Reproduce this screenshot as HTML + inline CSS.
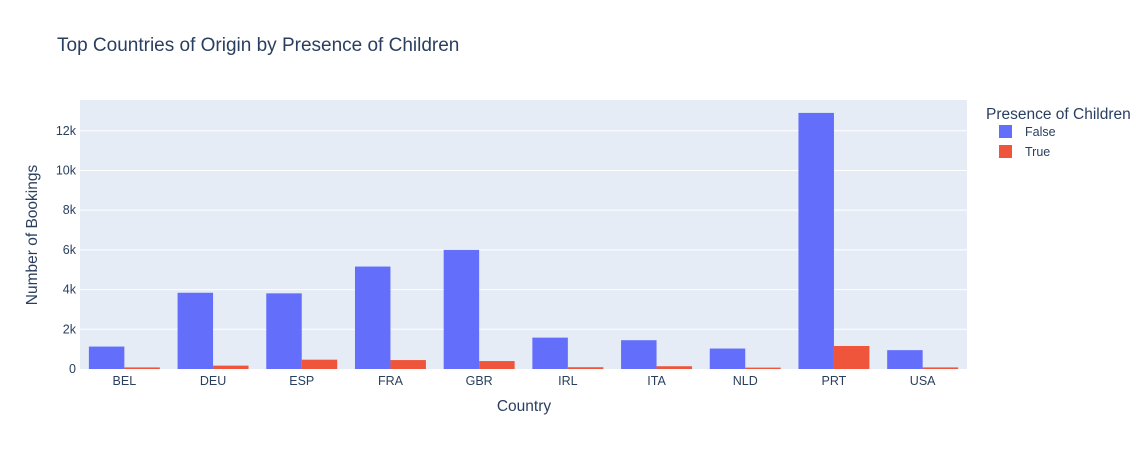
<!DOCTYPE html>
<html><head><meta charset="utf-8"><style>
body{margin:0;background:#fff;font-family:"Liberation Sans",Arial,sans-serif;}
svg text{font-family:"Liberation Sans",Arial,sans-serif;}
</style></head><body>
<svg id="chart" width="1146" height="450" xmlns="http://www.w3.org/2000/svg">
<rect width="1146" height="450" fill="#fff"/>
<text x="57" y="51" font-size="19" fill="#2a3f5f">Top Countries of Origin by Presence of Children</text>
<rect x="80" y="100" width="887" height="269" fill="#e5ecf6"/>
<g id="grid"></g><g id="bars"></g><g id="xticks"></g><g id="yticks"></g>
<text x="524" y="411" font-size="15.5" fill="#2a3f5f" text-anchor="middle">Country</text>
<text transform="translate(37,235) rotate(-90)" font-size="15.5" fill="#2a3f5f" text-anchor="middle">Number of Bookings</text>
<text x="986" y="119" font-size="15.5" fill="#2a3f5f">Presence of Children</text>
<g><rect x="999" y="125" width="13" height="13" fill="#636efa"/><text x="1025" y="136" font-size="12.5" fill="#2a3f5f">False</text></g>
<g><rect x="999" y="145" width="13" height="13" fill="#ef553b"/><text x="1025" y="156" font-size="12.5" fill="#2a3f5f">True</text></g>
</svg>
<script>
const categories=["BEL","DEU","ESP","FRA","GBR","IRL","ITA","NLD","PRT","USA"];
const falseValues=[1130,3840,3810,5160,6000,1580,1450,1030,12900,950];
const trueValues=[80,170,470,450,400,90,140,70,1160,80];
const yTicks=[0,2000,4000,6000,8000,10000,12000];
const yTickLabels=["0","2k","4k","6k","8k","10k","12k"];
const NS="http://www.w3.org/2000/svg";
const X0=80,W=887,Y0=369,YMAX=13550,H=269;
const y=v=>Y0-v/YMAX*H;
const band=W/categories.length;
const xc=i=>X0+band*(i+0.5);
function mk(tag,attrs,parent,text){const e=document.createElementNS(NS,tag);for(const k in attrs)e.setAttribute(k,attrs[k]);if(text!==undefined)e.textContent=text;document.getElementById(parent).appendChild(e);return e;}
yTicks.forEach((t,i)=>{
 if(t>0){const g=mk('line',{x1:X0,x2:X0+W,y1:y(t),y2:y(t),stroke:'#fff','stroke-width':1},'grid');
 
 }
 const l=mk('text',{x:X0-4,y:y(t)+4,'font-size':12.5,fill:'#2a3f5f','text-anchor':'end'},'yticks',yTickLabels[i]);
 
 
});
const bw=band*0.4;
categories.forEach((c,i)=>{
 const b1=mk('rect',{x:xc(i)-bw,y:y(falseValues[i]),width:bw,height:Y0-y(falseValues[i]),fill:'#636efa'},'bars');
 
 
 const b2=mk('rect',{x:xc(i),y:y(trueValues[i]),width:bw,height:Y0-y(trueValues[i]),fill:'#ef553b'},'bars');
 
 
 const t=mk('text',{x:xc(i),y:Y0+16,'font-size':12.5,fill:'#2a3f5f','text-anchor':'middle'},'xticks',c);
 
 
});
</script>
</body></html>
